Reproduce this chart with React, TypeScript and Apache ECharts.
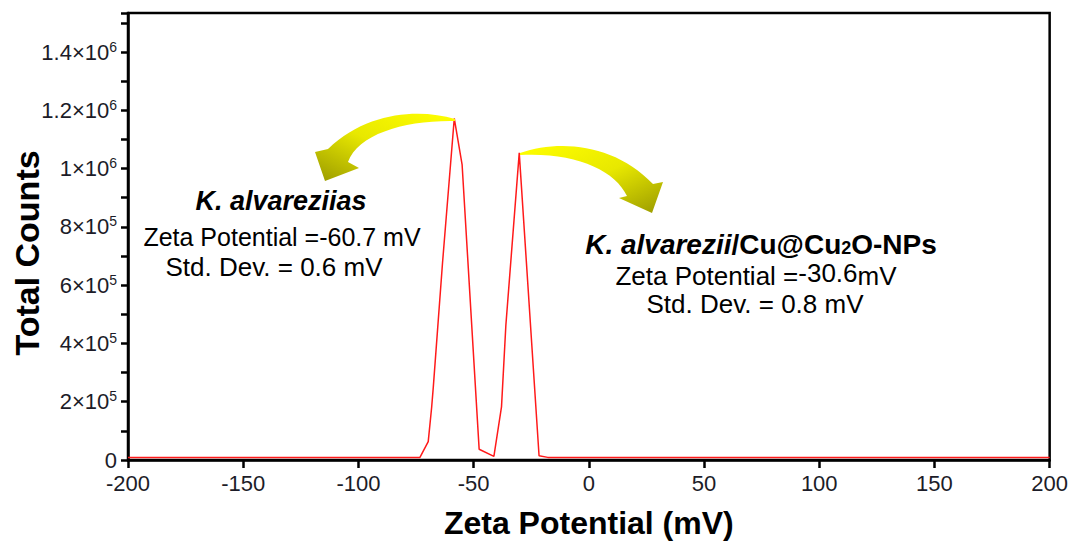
import React, { useEffect, useRef } from "react";
import * as echarts from "echarts";

// Zeta potential (mV) and total counts
const zeta = [-200, -73.3, -69.7, -68.2, -67.5, -63.5, -58.4, -55.0, -47.6, -41.2, -37.9, -36.0, -30.2, -21.6, -17.8, 200];
const counts = [9000, 9000, 63000, 182000, 250000, 676000, 1172000, 1014000, 37000, 12500, 182000, 463000, 1054000, 14500, 9000, 9000];

const xTicks = [-200, -150, -100, -50, 0, 50, 100, 150, 200];

const FONT = "'Liberation Sans', Arial, Helvetica, sans-serif";

const dLeft =
  "M455,119 C420,109 368,111 328,149 L315,152 L325,181 L359,168 L348,162 C358,134 405,120 455,121 Z";
const dRight =
  "M520,153 C560,139 615,144 653,184 L663,182 L652,213 L619,198 L627,196 C615,170 575,152 520,155 Z";

let registered = false;
function registerShapes() {
  if (registered) return;
  registered = true;
  echarts.graphic.registerShape("arrowLeft", echarts.graphic.extendPath(dLeft, {}) as any);
  echarts.graphic.registerShape("arrowRight", echarts.graphic.extendPath(dRight, {}) as any);
}

export default function App() {
  const ref = useRef<HTMLDivElement>(null);
  useEffect(() => {
    if (!ref.current) return;
    registerShapes();
    const chart = echarts.init(ref.current, undefined, { renderer: "svg" });
    const data = zeta.map((z, i) => [z, counts[i]]);
    const labelColor = "#1c1c28";
    const arrowFillL = {
      type: "linear",
      x: 1,
      y: 0,
      x2: 0,
      y2: 1,
      colorStops: [
        { offset: 0, color: "#ffff00" },
        { offset: 0.5, color: "#e8e800" },
        { offset: 1, color: "#9a9a00" },
      ],
    };
    const arrowFillR = {
      type: "linear",
      x: 0,
      y: 0,
      x2: 1,
      y2: 1,
      colorStops: [
        { offset: 0, color: "#ffff00" },
        { offset: 0.5, color: "#e8e800" },
        { offset: 1, color: "#9a9a00" },
      ],
    };
    chart.setOption({
      animation: false,
      backgroundColor: "#ffffff",
      grid: {
        left: 128,
        right: 21,
        top: 13,
        bottom: 77,
        show: true,
        borderColor: "#000",
        borderWidth: 2.5,
        containLabel: false,
      },
      xAxis: {
        type: "value",
        min: -200,
        max: 200,
        interval: 50,
        name: "Zeta Potential (mV)",
        nameLocation: "middle",
        nameGap: 47,
        nameTextStyle: { fontSize: 32, fontWeight: "bold", color: "#000", fontFamily: FONT },
        axisLine: { show: true, onZero: false, lineStyle: { color: "#000", width: 2.5 } },
        axisTick: { show: true, inside: false, length: 8, lineStyle: { color: "#000", width: 2.5 } },
        axisLabel: {
          fontSize: 22,
          color: labelColor,
          fontFamily: FONT,
          margin: 12,
          formatter: (v: number) => (xTicks.includes(Math.round(v)) ? String(Math.round(v)) : ""),
        },
        splitLine: { show: false },
      },
      yAxis: {
        type: "value",
        min: 0,
        max: 1534000,
        interval: 100000,
        axisLine: { show: true, onZero: false, lineStyle: { color: "#000", width: 2.5 } },
        axisTick: { show: true, inside: false, length: 7, lineStyle: { color: "#000", width: 2.5 } },
        axisLabel: {
          fontSize: 22,
          color: labelColor,
          fontFamily: FONT,
          margin: 11,
          formatter: (v: number) => {
            const k = Math.round(v / 100000);
            if (k % 2 !== 0) return "";
            if (k === 0) return "0";
            if (k >= 10) {
              const m = Math.round(k) / 10;
              return `${m}×10{sup|6}`;
            }
            return `${k}×10{sup|5}`;
          },
          rich: {
            sup: { fontSize: 14, color: labelColor, fontFamily: FONT, padding: [0, 0, 11, 0] },
          },
        },
        splitLine: { show: false },
      },
      series: [
        {
          type: "line",
          data,
          showSymbol: false,
          symbol: "none",
          lineStyle: { color: "#ff1a1a", width: 1.5 },
          z: 2,
        },
      ],
      graphic: [
        {
          type: "text",
          x: 27,
          y: 253,
          rotation: Math.PI / 2,
          z: 10,
          style: {
            text: "Total Counts",
            fontSize: 34,
            fontWeight: "bold",
            fontFamily: FONT,
            fill: "#000",
            align: "center",
            verticalAlign: "middle",
          },
        },
        { type: "arrowLeft", x: 0, y: 0, z: 10, style: { fill: arrowFillL } },
        { type: "arrowRight", x: 0, y: 0, z: 10, style: { fill: arrowFillR } },
        {
          type: "text",
          x: 281,
          y: 201,
          z: 10,
          style: {
            text: "K. alvareziias",
            fontSize: 27,
            fontWeight: "bold",
            fontStyle: "italic",
            fontFamily: FONT,
            fill: "#000",
            align: "center",
            verticalAlign: "middle",
          },
        },
        {
          type: "text",
          x: 282,
          y: 237,
          z: 10,
          style: {
            text: "Zeta Potential =-60.7 mV",
            fontSize: 25,
            fontFamily: FONT,
            fill: "#000",
            align: "center",
            verticalAlign: "middle",
          },
        },
        {
          type: "text",
          x: 274,
          y: 267,
          z: 10,
          style: {
            text: "Std. Dev. = 0.6 mV",
            fontSize: 26,
            fontFamily: FONT,
            fill: "#000",
            align: "center",
            verticalAlign: "middle",
          },
        },
        {
          type: "text",
          x: 761,
          y: 244,
          z: 10,
          style: {
            text: "{it|K. alvarezii}{b|/Cu@Cu}{sub|2}{b|O-NPs}",
            fontSize: 28,
            fontFamily: FONT,
            fill: "#000",
            align: "center",
            verticalAlign: "middle",
            rich: {
              it: { fontSize: 28, fontWeight: "bold", fontStyle: "italic", fontFamily: FONT, fill: "#000" },
              b: { fontSize: 28, fontWeight: "bold", fontFamily: FONT, fill: "#000" },
              sub: { fontSize: 18, fontWeight: "bold", fontFamily: FONT, fill: "#000", padding: [8, 0, 0, 0] },
            },
          },
        },
        {
          type: "text",
          x: 756,
          y: 276,
          z: 10,
          style: {
            text: "{n|Zeta Potential =}{r|-30.6}{n|mV}",
            fontSize: 26,
            fontFamily: FONT,
            fill: "#000",
            align: "center",
            verticalAlign: "middle",
            rich: {
              n: { fontSize: 26, fontFamily: FONT, fill: "#000" },
              r: { fontSize: 26, fontFamily: FONT, fill: "#000", padding: [0, 0, 6, 0] },
            },
          },
        },
        {
          type: "text",
          x: 755,
          y: 304,
          z: 10,
          style: {
            text: "Std. Dev. = 0.8 mV",
            fontSize: 26,
            fontFamily: FONT,
            fill: "#000",
            align: "center",
            verticalAlign: "middle",
          },
        },
      ],
    });
    return () => chart.dispose();
  }, []);
  return (
    <div
      ref={ref}
      style={{ position: "fixed", left: 0, top: 0, width: 1071, height: 544, background: "#fff" }}
    />
  );
}
